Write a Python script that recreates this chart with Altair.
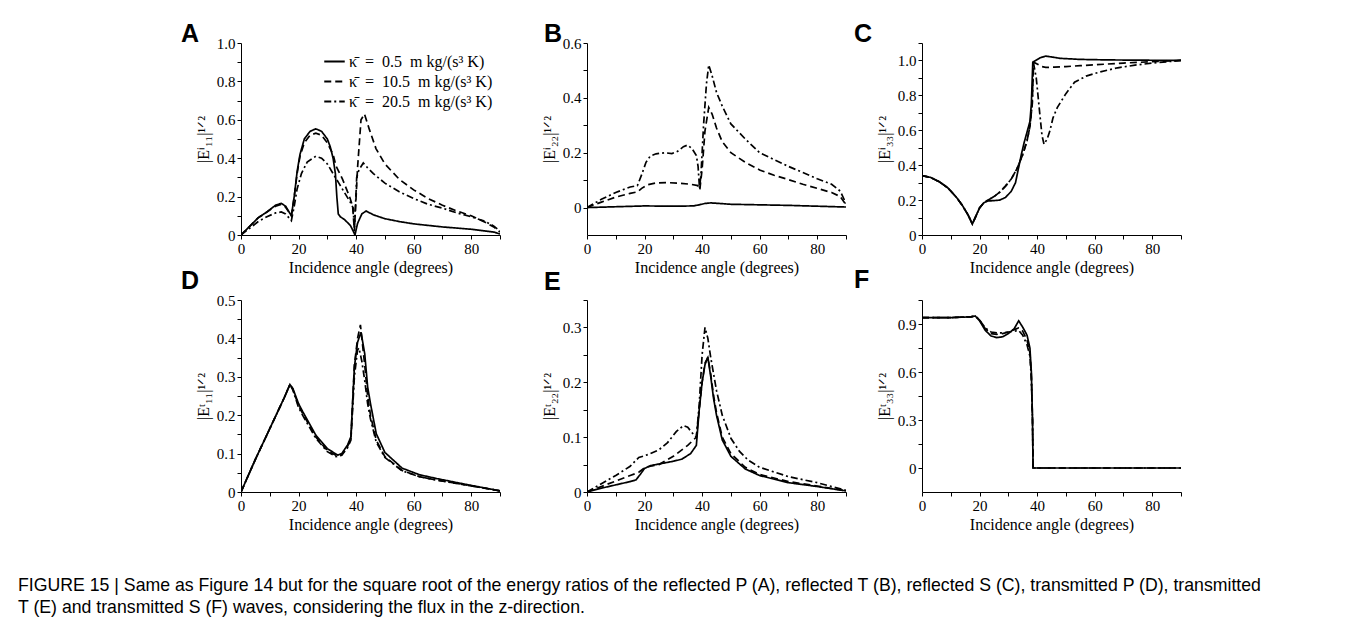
import altair as alt
import pandas as pd

SERIES = ["κ̄\u2002=\u20020.5\u2002m kg/(s³ K)", "κ̄\u2002=\u200210.5\u2002m kg/(s³ K)", "κ̄\u2002=\u200220.5\u2002m kg/(s³ K)"]
DASHES = [[1, 0], [7, 4], [7, 3, 2, 3]]

# ---------------- Panel A: reflected P ----------------
A_s_x = [0, 3, 6, 9, 12, 14, 15.5, 17.5, 18.5, 19.5, 20.5, 22, 24, 26, 28, 30, 31, 32, 32.8, 33.3, 33.8, 34.5, 36, 38, 39, 39.6, 40.5, 42, 43.5, 46, 50, 55, 60, 70, 80, 88, 90]
A_s_y = [0, 0.045, 0.09, 0.12, 0.155, 0.165, 0.15, 0.10, 0.2, 0.33, 0.42, 0.5, 0.54, 0.553, 0.54, 0.5, 0.46, 0.4, 0.32, 0.2, 0.11, 0.095, 0.08, 0.05, 0.02, 0.0, 0.06, 0.11, 0.125, 0.105, 0.085, 0.07, 0.058, 0.042, 0.03, 0.015, 0.005]
A_d_x = [0, 3, 6, 9, 12, 14, 15.5, 17.5, 18.5, 19.5, 20.5, 22, 24, 26, 28, 30, 32, 33, 35.3, 37.7, 38.8, 39.4, 40.5, 41.7, 42.9, 44.6, 46.9, 50, 55, 60, 65, 70, 75, 80, 85, 88, 90]
A_d_y = [0, 0.045, 0.09, 0.12, 0.15, 0.16, 0.145, 0.1, 0.2, 0.32, 0.41, 0.48, 0.52, 0.53, 0.52, 0.48, 0.42, 0.36, 0.29, 0.2, 0.15, 0.02, 0.35, 0.6, 0.63, 0.55, 0.45, 0.37, 0.29, 0.235, 0.19, 0.155, 0.125, 0.1, 0.065, 0.04, 0.015]
A_dd_x = [0, 3, 6, 9, 12, 14, 15.5, 17.5, 18.5, 19.5, 21, 23, 26, 28, 30, 32, 34, 36, 38, 39, 39.4, 40.2, 41, 42.5, 44, 46, 50, 55, 60, 65, 70, 75, 80, 85, 88, 90]
A_dd_y = [0, 0.035, 0.07, 0.095, 0.115, 0.12, 0.11, 0.075, 0.15, 0.24, 0.32, 0.38, 0.41, 0.4, 0.37, 0.32, 0.27, 0.22, 0.17, 0.14, 0.02, 0.3, 0.34, 0.375, 0.35, 0.32, 0.27, 0.225, 0.19, 0.16, 0.14, 0.115, 0.095, 0.07, 0.045, 0.02]

# ---------------- Panel B: reflected T ----------------
B_s_x = [0, 10, 20, 30, 37, 39, 41, 43, 46, 50, 60, 70, 80, 90]
B_s_y = [0, 0.003, 0.006, 0.005, 0.006, 0.01, 0.015, 0.017, 0.015, 0.012, 0.01, 0.008, 0.005, 0.002]
B_d_x = [0, 5, 10, 15, 17.5, 19, 21, 24, 28, 32, 36, 38.5, 39.2, 40, 41, 42.3, 43.5, 45, 47, 50, 55, 60, 65, 70, 75, 80, 85, 88, 90]
B_d_y = [0, 0.02, 0.038, 0.052, 0.057, 0.07, 0.083, 0.09, 0.091, 0.089, 0.085, 0.08, 0.065, 0.14, 0.28, 0.365, 0.34, 0.29, 0.24, 0.2, 0.165, 0.137, 0.118, 0.102, 0.085, 0.07, 0.055, 0.04, 0.01]
B_dd_x = [0, 5, 10, 15, 17.5, 19, 20.5, 22, 24, 27, 29.5, 31.5, 33.5, 35, 36.5, 38, 38.6, 39.1, 39.6, 40.5, 41.5, 42.3, 43.5, 45, 47, 50, 55, 60, 65, 70, 75, 80, 85, 88, 90]
B_dd_y = [0, 0.03, 0.055, 0.075, 0.08, 0.12, 0.165, 0.188, 0.196, 0.2, 0.197, 0.205, 0.222, 0.228, 0.215, 0.19, 0.15, 0.07, 0.12, 0.3, 0.45, 0.52, 0.48, 0.42, 0.37, 0.305, 0.25, 0.2, 0.175, 0.15, 0.128, 0.105, 0.085, 0.06, 0.015]

# ---------------- Panel C: reflected S ----------------
C_s_x = [0, 3, 6, 9, 12, 14, 16, 17.5, 18.5, 20, 21.5, 23, 25, 27, 29, 31, 32.5, 33.5, 34.5, 35.5, 36.5, 37.5, 38, 38.5, 39.5, 41, 43, 45, 48, 55, 65, 90]
C_s_y = [0.34, 0.33, 0.305, 0.27, 0.215, 0.17, 0.115, 0.063, 0.1, 0.155, 0.185, 0.195, 0.197, 0.2, 0.215, 0.25, 0.3, 0.38, 0.46, 0.53, 0.59, 0.65, 0.75, 0.99, 1.0, 1.015, 1.025, 1.02, 1.012, 1.006, 1.003, 1.0]
C_d_x = [0, 3, 6, 9, 12, 14, 16, 17.5, 18.5, 20, 21.5, 23, 25, 27, 29, 31, 33, 35, 36.5, 37.5, 38.3, 38.8, 40, 41.5, 43, 46, 50, 55, 60, 70, 80, 90]
C_d_y = [0.34, 0.33, 0.305, 0.27, 0.215, 0.17, 0.115, 0.063, 0.1, 0.155, 0.185, 0.2, 0.22, 0.245, 0.28, 0.32, 0.38, 0.46, 0.54, 0.62, 0.75, 0.99, 0.98, 0.965, 0.96, 0.962, 0.965, 0.97, 0.975, 0.985, 0.993, 1.0]
C_dd_x = [0, 3, 6, 9, 12, 14, 16, 17.5, 18.5, 20, 21.5, 23, 25, 27, 29, 31, 33, 35, 36.5, 37.5, 38.3, 38.7, 39.7, 40.9, 41.7, 42.4, 43.5, 44.5, 45.5, 47, 50, 53, 57, 62, 68, 74, 80, 90]
C_dd_y = [0.34, 0.33, 0.305, 0.27, 0.215, 0.17, 0.115, 0.063, 0.1, 0.155, 0.185, 0.2, 0.22, 0.245, 0.28, 0.32, 0.38, 0.46, 0.54, 0.62, 0.75, 0.99, 0.9, 0.7, 0.57, 0.52, 0.55, 0.6, 0.67, 0.73, 0.81, 0.875, 0.91, 0.935, 0.958, 0.973, 0.985, 1.0]

# ---------------- Panel D: transmitted P ----------------
D_s_x = [0, 5, 10, 15, 17, 18, 20, 21.4, 26, 30, 33.6, 35, 37, 38.2, 39.4, 40.5, 41.7, 43, 44, 45, 47, 50, 56, 62, 68, 79.4, 90]
D_s_y = [0, 0.085, 0.165, 0.245, 0.28, 0.27, 0.23, 0.21, 0.148, 0.113, 0.096, 0.1, 0.122, 0.144, 0.325, 0.39, 0.416, 0.36, 0.274, 0.23, 0.152, 0.103, 0.062, 0.045, 0.035, 0.018, 0.003]
D_d_x = [0, 5, 10, 15, 17, 18, 20, 21.4, 26, 30, 33.6, 35, 37, 38.2, 39.4, 40.5, 41.5, 43, 44, 45, 47, 50, 56, 62, 68, 80, 90]
D_d_y = [0, 0.085, 0.165, 0.245, 0.28, 0.268, 0.225, 0.205, 0.143, 0.108, 0.093, 0.097, 0.118, 0.14, 0.33, 0.4, 0.435, 0.33, 0.25, 0.2, 0.135, 0.092, 0.056, 0.04, 0.031, 0.016, 0.003]
D_dd_x = [0, 5, 10, 15, 17, 18, 20, 21.4, 26, 30, 33, 35, 37, 38.2, 39.4, 40.5, 41, 42, 43, 44, 45, 47, 50, 56, 62, 68, 80, 90]
D_dd_y = [0, 0.085, 0.165, 0.245, 0.28, 0.266, 0.22, 0.2, 0.14, 0.105, 0.092, 0.096, 0.115, 0.135, 0.3, 0.37, 0.375, 0.34, 0.29, 0.23, 0.19, 0.13, 0.09, 0.055, 0.04, 0.031, 0.016, 0.003]

# ---------------- Panel E: transmitted T ----------------
E_s_x = [0, 5, 10, 15, 17, 18.5, 20, 22, 25, 30, 33, 36, 38, 39, 40, 41, 42, 43, 44, 45, 47, 50, 55, 60, 70, 80, 90]
E_s_y = [0, 0.007, 0.013, 0.019, 0.022, 0.032, 0.043, 0.048, 0.051, 0.056, 0.06, 0.07, 0.085, 0.15, 0.2, 0.232, 0.246, 0.21, 0.17, 0.14, 0.095, 0.065, 0.042, 0.03, 0.017, 0.01, 0.002]
E_d_x = [0, 5, 10, 15, 18, 20, 22, 25, 30, 35, 38, 39, 40, 41, 42, 43, 44, 45, 47, 50, 55, 60, 70, 80, 90]
E_d_y = [0, 0.01, 0.02, 0.03, 0.036, 0.044, 0.047, 0.05, 0.065, 0.085, 0.1, 0.15, 0.2, 0.235, 0.245, 0.215, 0.175, 0.145, 0.1, 0.07, 0.045, 0.032, 0.019, 0.011, 0.002]
E_dd_x = [0, 5, 10, 15, 18, 20, 22, 25, 28, 31, 33.5, 35, 37, 38, 39, 40, 41, 42, 43, 45, 47, 50, 53, 56, 60, 70, 80, 90]
E_dd_y = [0, 0.015, 0.03, 0.047, 0.063, 0.066, 0.07, 0.077, 0.09, 0.11, 0.121, 0.118, 0.105, 0.1, 0.16, 0.25, 0.3, 0.28, 0.245, 0.185, 0.14, 0.098, 0.074, 0.058, 0.045, 0.028, 0.017, 0.003]

# ---------------- Panel F: transmitted S ----------------
F_s_x = [0, 10, 17, 18.5, 20, 22, 24, 26, 28, 30, 32, 33.6, 35, 36.5, 37.5, 38, 38.4, 38.6, 40, 60, 90]
F_s_y = [0.94, 0.94, 0.945, 0.95, 0.92, 0.86, 0.825, 0.815, 0.82, 0.84, 0.87, 0.92, 0.88, 0.83, 0.75, 0.6, 0.3, 0.0, 0.0, 0.0, 0.0]
F_d_x = [0, 10, 17, 18.5, 20, 22, 24, 26, 28, 30, 32, 33.6, 35, 36.5, 37.5, 38, 38.4, 38.6, 40, 60, 90]
F_d_y = [0.94, 0.94, 0.945, 0.95, 0.925, 0.87, 0.84, 0.835, 0.84, 0.85, 0.865, 0.875, 0.855, 0.8, 0.72, 0.58, 0.3, 0.0, 0.0, 0.0, 0.0]
F_dd_x = [0, 10, 17, 18.5, 20, 22, 24, 26, 28, 30, 32, 33.6, 35, 36.5, 37.5, 38, 38.4, 38.6, 40, 60, 90]
F_dd_y = [0.94, 0.94, 0.945, 0.95, 0.925, 0.875, 0.85, 0.845, 0.845, 0.85, 0.855, 0.86, 0.83, 0.77, 0.7, 0.56, 0.3, 0.0, 0.0, 0.0, 0.0]

CAPTION = [
    "FIGURE 15 | Same as Figure 14 but for the square root of the energy ratios of the reflected P (A), reflected T (B), reflected S (C), transmitted P (D), transmitted",
    "T (E) and transmitted S (F) waves, considering the flux in the z-direction.",
]

SERIF = "Liberation Serif"
SANS = "Liberation Sans"
W, H = 259, 192


def make_df(pairs):
    rows = []
    for label, (xs, ys) in zip(SERIES, pairs):
        for i, (x, y) in enumerate(zip(xs, ys)):
            rows.append({"angle": x, "value": y, "series": label, "order": i})
    return pd.DataFrame(rows)


def panel(pairs, letter, ydom, yvals, step, ytitle, letter_dx, letter_offset, legend=False):
    df = make_df(pairs)
    lab = (f"abs(datum.value/{step} - round(datum.value/{step})) < 1e-6 ? "
           f"(abs(datum.value) < 1e-9 ? '0' : format(datum.value, '.1f')) : ''")
    if legend:
        leg = alt.Legend(title=None, orient="top-right", offset=7, symbolType="stroke",
                         symbolSize=420, symbolStrokeWidth=1.8, symbolStrokeColor="black",
                         labelFont=SERIF, labelFontSize=16, labelLimit=400, rowPadding=-3,
                         labelOffset=3, labelColor="black")
    else:
        leg = None
    return alt.Chart(df).mark_line(color="black", strokeWidth=1.7, clip=True).encode(
        x=alt.X("angle:Q", scale=alt.Scale(domain=[0, 90], nice=False, zero=False),
                axis=alt.Axis(values=list(range(0, 91, 10)), labelFlush=False,
                              labelExpr="datum.value % 20 == 0 && datum.value < 90 ? datum.label : ''",
                              title="Incidence angle (degrees)", titlePadding=3)),
        y=alt.Y("value:Q", scale=alt.Scale(domain=ydom, nice=False, zero=False),
                axis=alt.Axis(values=yvals, labelExpr=lab, title=ytitle, titlePadding=5)),
        strokeDash=alt.StrokeDash("series:N", scale=alt.Scale(domain=SERIES, range=DASHES), legend=leg),
        order="order:Q",
    ).properties(
        width=W, height=H,
        title=alt.TitleParams(text=letter, anchor="start", frame="group", dx=letter_dx,
                              offset=letter_offset, fontSize=25, font=SANS, fontWeight="bold",
                              color="black"),
    )


def steps(a, b, s):
    n = int(round((b - a) / s))
    return [round(a + i * s, 4) for i in range(n + 1)]


pA = panel([(A_s_x, A_s_y), (A_d_x, A_d_y), (A_dd_x, A_dd_y)], "A", [0, 1.0], steps(0, 1.0, 0.1), 0.2,
           "|Eⁱ₁₁|¹ᐟ²", -60, -11, legend=True)
pB = panel([(B_s_x, B_s_y), (B_d_x, B_d_y), (B_dd_x, B_dd_y)], "B", [-0.1, 0.6], steps(0, 0.6, 0.1), 0.2,
           "|Eⁱ₂₂|¹ᐟ²", -43, -11)
pC = panel([(C_s_x, C_s_y), (C_d_x, C_d_y), (C_dd_x, C_dd_y)], "C", [0, 1.1], steps(0, 1.1, 0.1), 0.2,
           "|Eⁱ₃₃|¹ᐟ²", -68, -4)
pD = panel([(D_s_x, D_s_y), (D_d_x, D_d_y), (D_dd_x, D_dd_y)], "D", [0, 0.5], steps(0, 0.5, 0.05), 0.1,
           "|Eᵗ₁₁|¹ᐟ²", -60, -1)
pE = panel([(E_s_x, E_s_y), (E_d_x, E_d_y), (E_dd_x, E_dd_y)], "E", [0, 0.35], steps(0, 0.35, 0.05), 0.1,
           "|Eᵗ₂₂|¹ᐟ²", -43, 5)
pF = panel([(F_s_x, F_s_y), (F_d_x, F_d_y), (F_dd_x, F_dd_y)], "F", [-0.15, 1.05], steps(0, 1.05, 0.15), 0.3,
           "|Eᵗ₃₃|¹ᐟ²", -68, 7)


def row(a, b, c):
    inner = alt.hconcat(a, b, spacing=40).resolve_scale(strokeDash="independent").resolve_legend(strokeDash="independent")
    return alt.hconcat(inner, c, spacing=7).resolve_scale(strokeDash="independent").resolve_legend(strokeDash="independent")


chart = alt.vconcat(row(pA, pB, pC), row(pD, pE, pF), spacing=-8).resolve_scale(
    strokeDash="independent").resolve_legend(strokeDash="independent").properties(
    padding={"left": 18, "top": 21, "right": 5, "bottom": 5},
    title=alt.TitleParams(text=CAPTION, orient="bottom", anchor="start", frame="bounds", dx=-163,
                          offset=45, fontSize=17.7, font=SANS, fontWeight="normal", lineHeight=22,
                          color="black"),
).configure_view(stroke=None).configure_axis(
    grid=False, domainColor="black", tickColor="black", labelColor="black", titleColor="black",
    labelFont=SERIF, labelFontSize=15, titleFont=SERIF, titleFontSize=16, titleFontWeight="normal",
    tickSize=4, labelPadding=2, domainWidth=1,
)

chart.save("out.html", embed_options={"renderer": "svg", "actions": False})
